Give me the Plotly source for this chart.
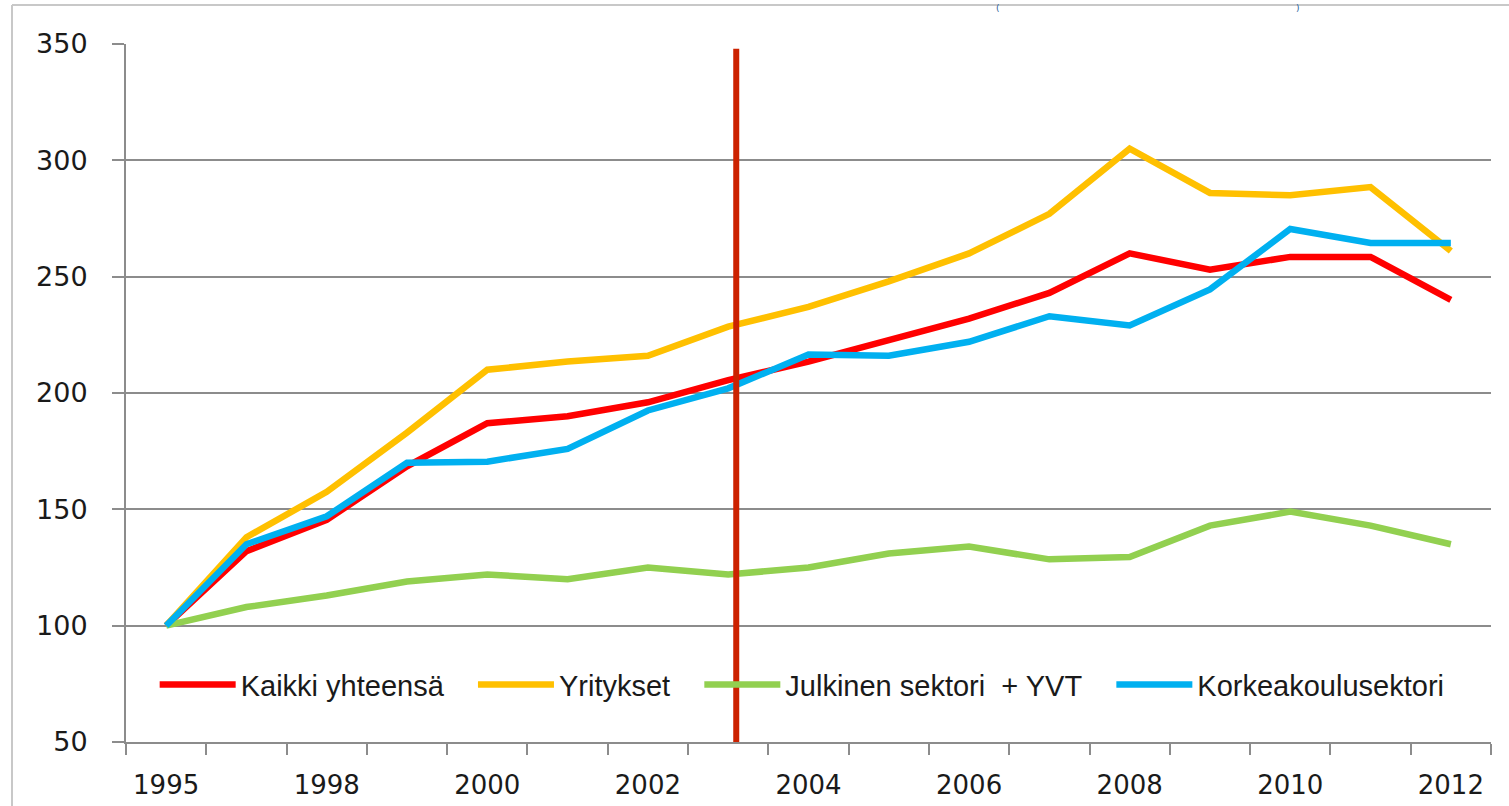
import plotly.graph_objects as go

# vuodet (1996 puuttuu aineistosta)
YEARS = ["1995", "1997", "1998", "1999", "2000", "2001", "2002", "2003", "2004",
         "2005", "2006", "2007", "2008", "2009", "2010", "2011", "2012"]

KAIKKI = [100, 132, 145.5, 168.5, 187, 190, 196, 205.5, 213.5, 223, 232, 243, 260, 253, 258.5, 258.5, 240]
YRITYKSET = [100, 138, 157.5, 183, 210, 213.5, 216, 228.5, 237, 248, 260, 277, 305, 286, 285, 288.5, 261]
JULKINEN = [100, 108, 113, 119, 122, 120, 125, 122, 125, 131, 134, 128.5, 129.5, 143, 149, 143, 135]
KORKEA = [100, 135, 147, 170, 170.5, 176, 192.5, 202, 216.5, 216, 222, 233, 229, 244.5, 270.5, 264.5, 264.5]

SERIES = [
    ("Kaikki yhteensä", KAIKKI, "#ff0000"),
    ("Yritykset", YRITYKSET, "#ffc000"),
    ("Julkinen sektori\u00a0 + YVT", JULKINEN, "#92d050"),
    ("Korkeakoulusektori", KORKEA, "#00b0f0"),
]

MARKER_X = 7.1  # category position of the vertical red marker line
Y_MIN, Y_MAX = 50, 350

W, H = 1509, 806
L, R, T, B = 126, 18, 44, 64
GRID = "#8c8c8c"
GAP = "\u00a0" * 3  # extra room between legend entries

fig = go.Figure()
for name, vals, color in SERIES:
    fig.add_trace(go.Scatter(
        x=YEARS, y=vals, name=name + GAP, mode="lines",
        line=dict(color=color, width=6.5),
    ))

fig.add_shape(type="line", xref="x", yref="y",
              x0=MARKER_X, x1=MARKER_X, y0=Y_MIN, y1=348,
              line=dict(color="#cc2200", width=6))

# chart-area border (top + left) seen in the cropped screenshot
pw, ph = W - L - R, H - T - B
fig.add_shape(type="line", xref="paper", yref="paper",
              x0=(12 - L) / pw, x1=1.2, y0=(H - B - 5) / ph, y1=(H - B - 5) / ph,
              line=dict(color="#c8c8c8", width=2))
fig.add_shape(type="line", xref="paper", yref="paper",
              x0=(12 - L) / pw, x1=(12 - L) / pw, y0=-0.2, y1=(H - B - 5) / ph,
              line=dict(color="#c8c8c8", width=2))

# remnants of the cut-off title: two small blue parentheses at the top edge
for txt, px in [("(", 998), (")", 1298)]:
    fig.add_annotation(text=txt, xref="paper", yref="paper",
                       x=(px - L) / pw, y=(H - B - 1) / ph,
                       xanchor="center", yanchor="top", showarrow=False,
                       font=dict(family="DejaVu Sans", size=9, color="#1f5c99"))

fig.update_layout(
    width=W, height=H,
    margin=dict(l=L, r=R, t=T, b=B),
    paper_bgcolor="white", plot_bgcolor="white",
    font=dict(family="DejaVu Sans", size=27, color="#1a1a1a"),
    showlegend=True,
    legend=dict(
        orientation="h", x=0.021, y=0.082, xanchor="left", yanchor="middle",
        font=dict(family="Liberation Sans", size=29, color="#1a1a1a"),
        itemwidth=76, bgcolor="rgba(0,0,0,0)",
    ),
    xaxis=dict(
        type="category", categoryorder="array", categoryarray=YEARS,
        range=[-0.5, len(YEARS) - 0.5],
        tickmode="array", tickvals=YEARS,
        ticktext=[y if i % 2 == 0 else "" for i, y in enumerate(YEARS)],
        tickson="boundaries", ticks="outside", ticklen=11, tickwidth=2, tickcolor=GRID,
        showgrid=False, showline=True, linecolor=GRID, linewidth=2,
        ticklabelstandoff=19, zeroline=False, automargin=False,
        tickfont=dict(size=26),
    ),
    yaxis=dict(
        range=[Y_MIN, Y_MAX], dtick=50, tick0=50,
        ticks="outside", ticklen=12, tickwidth=2, tickcolor=GRID,
        showgrid=True, gridcolor=GRID, gridwidth=2,
        showline=True, linecolor=GRID, linewidth=2,
        ticklabelstandoff=19, zeroline=False, automargin=False,
    ),
)

fig.write_html("out.html", config={"displayModeBar": False},
               post_script="document.body.style.margin='0';")
